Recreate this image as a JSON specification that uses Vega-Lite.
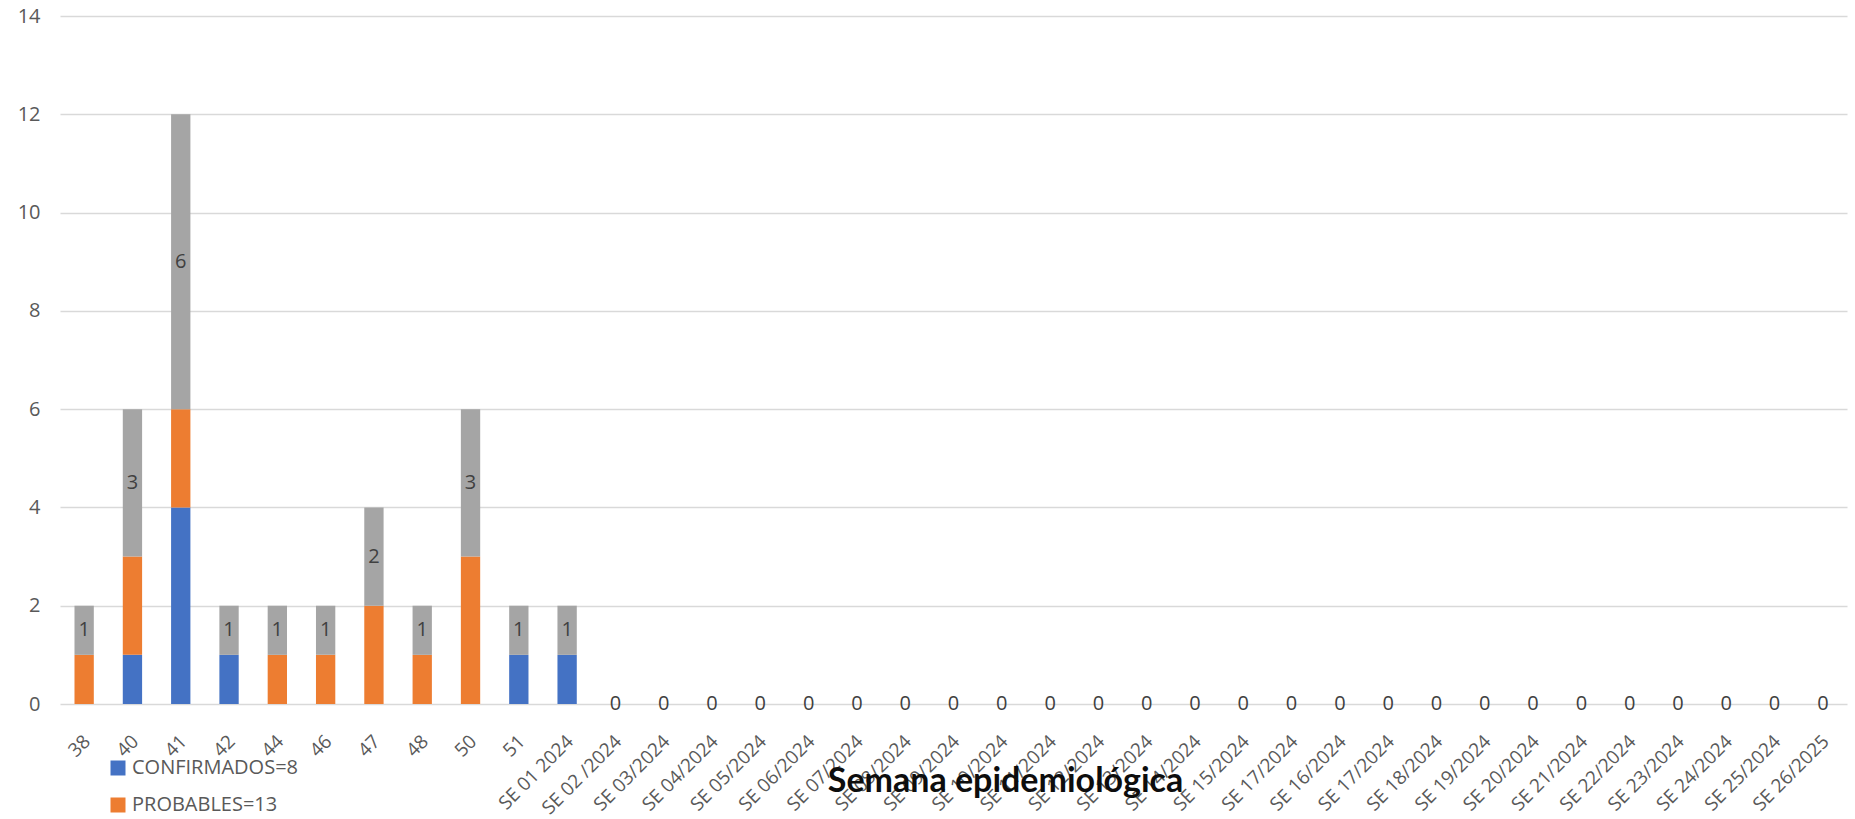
{
  "$schema": "https://vega.github.io/schema/vega-lite/v6.json",
  "width": 1787,
  "height": 688,
  "autosize": "none",
  "padding": {"left": 60, "top": 16, "right": 8, "bottom": 115},
  "background": "#ffffff",
  "config": {"view": {"stroke": null}, "font": "Open Sans"},
  "data": {
    "values": [
      {"semana": "38", "CONFIRMADOS=8": 0, "PROBABLES=13": 1, "TOTAL": 1},
      {"semana": "40", "CONFIRMADOS=8": 1, "PROBABLES=13": 2, "TOTAL": 3},
      {"semana": "41", "CONFIRMADOS=8": 4, "PROBABLES=13": 2, "TOTAL": 6},
      {"semana": "42", "CONFIRMADOS=8": 1, "PROBABLES=13": 0, "TOTAL": 1},
      {"semana": "44", "CONFIRMADOS=8": 0, "PROBABLES=13": 1, "TOTAL": 1},
      {"semana": "46", "CONFIRMADOS=8": 0, "PROBABLES=13": 1, "TOTAL": 1},
      {"semana": "47", "CONFIRMADOS=8": 0, "PROBABLES=13": 2, "TOTAL": 2},
      {"semana": "48", "CONFIRMADOS=8": 0, "PROBABLES=13": 1, "TOTAL": 1},
      {"semana": "50", "CONFIRMADOS=8": 0, "PROBABLES=13": 3, "TOTAL": 3},
      {"semana": "51", "CONFIRMADOS=8": 1, "PROBABLES=13": 0, "TOTAL": 1},
      {"semana": "SE 01 2024", "CONFIRMADOS=8": 1, "PROBABLES=13": 0, "TOTAL": 1},
      {"semana": "SE 02 /2024", "CONFIRMADOS=8": 0, "PROBABLES=13": 0, "TOTAL": 0},
      {"semana": "SE 03/2024", "CONFIRMADOS=8": 0, "PROBABLES=13": 0, "TOTAL": 0},
      {"semana": "SE 04/2024", "CONFIRMADOS=8": 0, "PROBABLES=13": 0, "TOTAL": 0},
      {"semana": "SE 05/2024", "CONFIRMADOS=8": 0, "PROBABLES=13": 0, "TOTAL": 0},
      {"semana": "SE 06/2024", "CONFIRMADOS=8": 0, "PROBABLES=13": 0, "TOTAL": 0},
      {"semana": "SE 07/2024", "CONFIRMADOS=8": 0, "PROBABLES=13": 0, "TOTAL": 0},
      {"semana": "SE 08/2024", "CONFIRMADOS=8": 0, "PROBABLES=13": 0, "TOTAL": 0},
      {"semana": "SE 09/2024", "CONFIRMADOS=8": 0, "PROBABLES=13": 0, "TOTAL": 0},
      {"semana": "SE 10/2024", "CONFIRMADOS=8": 0, "PROBABLES=13": 0, "TOTAL": 0},
      {"semana": "SE 11/2024", "CONFIRMADOS=8": 0, "PROBABLES=13": 0, "TOTAL": 0},
      {"semana": "SE 12/2024", "CONFIRMADOS=8": 0, "PROBABLES=13": 0, "TOTAL": 0},
      {"semana": "SE 13/2024", "CONFIRMADOS=8": 0, "PROBABLES=13": 0, "TOTAL": 0},
      {"semana": "SE 14/2024", "CONFIRMADOS=8": 0, "PROBABLES=13": 0, "TOTAL": 0},
      {"semana": "SE 15/2024", "CONFIRMADOS=8": 0, "PROBABLES=13": 0, "TOTAL": 0},
      {"semana": "SE 17/2024", "CONFIRMADOS=8": 0, "PROBABLES=13": 0, "TOTAL": 0},
      {"semana": "SE 16/2024", "CONFIRMADOS=8": 0, "PROBABLES=13": 0, "TOTAL": 0},
      {"semana": "SE 17/2024 ", "CONFIRMADOS=8": 0, "PROBABLES=13": 0, "TOTAL": 0},
      {"semana": "SE 18/2024", "CONFIRMADOS=8": 0, "PROBABLES=13": 0, "TOTAL": 0},
      {"semana": "SE 19/2024", "CONFIRMADOS=8": 0, "PROBABLES=13": 0, "TOTAL": 0},
      {"semana": "SE 20/2024", "CONFIRMADOS=8": 0, "PROBABLES=13": 0, "TOTAL": 0},
      {"semana": "SE 21/2024", "CONFIRMADOS=8": 0, "PROBABLES=13": 0, "TOTAL": 0},
      {"semana": "SE 22/2024", "CONFIRMADOS=8": 0, "PROBABLES=13": 0, "TOTAL": 0},
      {"semana": "SE 23/2024", "CONFIRMADOS=8": 0, "PROBABLES=13": 0, "TOTAL": 0},
      {"semana": "SE 24/2024", "CONFIRMADOS=8": 0, "PROBABLES=13": 0, "TOTAL": 0},
      {"semana": "SE 25/2024", "CONFIRMADOS=8": 0, "PROBABLES=13": 0, "TOTAL": 0},
      {"semana": "SE 26/2025", "CONFIRMADOS=8": 0, "PROBABLES=13": 0, "TOTAL": 0}
    ]
  },
  "transform": [
    {"fold": ["CONFIRMADOS=8", "PROBABLES=13", "TOTAL"], "as": ["serie", "n"]}
  ],
  "encoding": {
    "x": {
      "field": "semana",
      "type": "nominal",
      "sort": null,
      "scale": {"paddingInner": 0.6, "paddingOuter": 0.3},
      "axis": {
        "title": "Semana epidemiológica",
        "labelAngle": -45,
        "labelAlign": "right",
        "labelBaseline": "middle",
        "labelPadding": 34,
        "labelOffset": 3,
        "labelFontSize": 19,
        "labelColor": "#595959",
        "labelFont": "Open Sans",
        "labelOverlap": false,
        "ticks": false,
        "tickSize": 0,
        "domain": false,
        "grid": false,
        "titleFont": "Lato",
        "titleFontSize": 34,
        "titleFontWeight": "bold",
        "titleColor": "#0d0d0d",
        "titleX": 945,
        "titleY": 87,
        "titleAlign": "center",
        "titleBaseline": "alphabetic"
      }
    },
    "y": {
      "field": "n",
      "type": "quantitative",
      "stack": "zero",
      "scale": {"domain": [0, 14], "nice": false},
      "axis": {
        "title": null,
        "values": [0, 2, 4, 6, 8, 10, 12, 14],
        "domain": false,
        "ticks": false,
        "tickSize": 0,
        "labelPadding": 20,
        "labelFontSize": 20,
        "labelColor": "#595959",
        "labelFont": "Open Sans",
        "gridColor": "#d9d9d9",
        "gridWidth": 1.5
      }
    },
    "order": {"field": "serie", "sort": "ascending"}
  },
  "layer": [
    {
      "mark": {"type": "bar"},
      "encoding": {
        "color": {
          "field": "serie",
          "type": "nominal",
          "scale": {
            "domain": ["CONFIRMADOS=8", "PROBABLES=13", "TOTAL"],
            "range": ["#4472C4", "#ED7D31", "#A5A5A5"]
          },
          "legend": {
            "orient": "none",
            "legendX": 48,
            "legendY": 742,
            "title": null,
            "values": ["CONFIRMADOS=8", "PROBABLES=13"],
            "symbolType": "square",
            "symbolSize": 225,
            "symbolStrokeWidth": 0,
            "labelFontSize": 20,
            "labelLimit": 0,
            "labelColor": "#595959",
            "labelFont": "Open Sans",
            "labelOffset": 4,
            "rowPadding": 17,
            "padding": 0
          }
        }
      }
    },
    {
      "mark": {"type": "text", "fontSize": 20, "color": "#404040", "baseline": "middle", "font": "Open Sans"},
      "encoding": {
        "y": {"field": "n", "type": "quantitative", "stack": "zero", "bandPosition": 0.5},
        "detail": {"field": "serie"},
        "text": {"condition": {"test": "datum.serie === 'TOTAL'", "field": "n"}, "value": ""}
      }
    }
  ]
}
